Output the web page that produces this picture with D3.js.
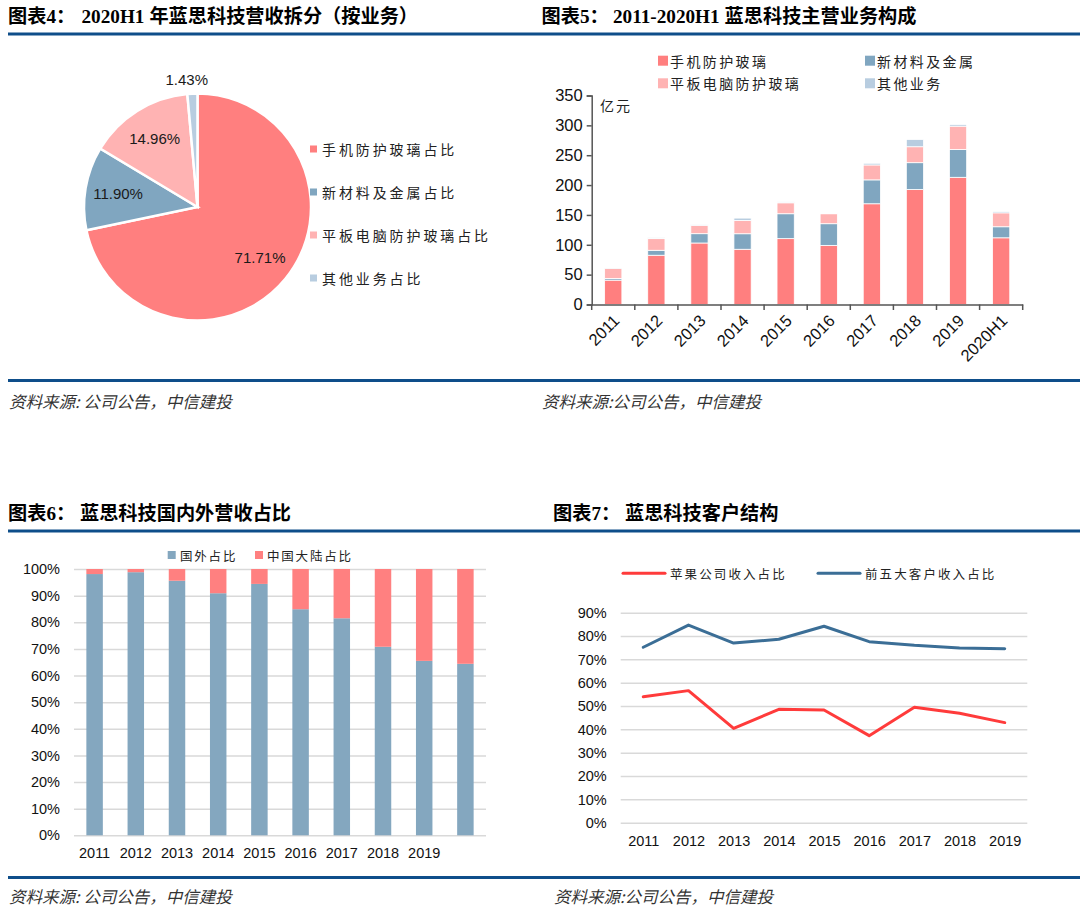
<!DOCTYPE html>
<html><head><meta charset="utf-8">
<script src="https://cdn.jsdelivr.net/npm/d3@7"></script>
<style>
body{margin:0;background:#fff;}
svg{display:block;}
</style></head><body>
<svg id="c" width="1080" height="910"></svg>
<script>
// ---------- DATA ----------
// Chart 4: pie (2020H1 revenue by business)
const pieLabels = ["手机防护玻璃占比", "新材料及金属占比", "平板电脑防护玻璃占比", "其他业务占比"];
const pieValues = [71.71, 11.90, 14.96, 1.43];

// Chart 5: stacked bars (亿元)
const revYears = ["2011", "2012", "2013", "2014", "2015", "2016", "2017", "2018", "2019", "2020H1"];
const revSeriesNames = ["手机防护玻璃", "新材料及金属", "平板电脑防护玻璃", "其他业务"];
const revPhone    = [40.8, 82.5, 103.0, 92.5, 110.3, 99.0, 168.7, 192.5, 213.0, 111.7];
const revMaterial = [2.8, 8.3, 15.6, 26.0, 41.7, 36.3, 40.0, 45.0, 46.7, 18.5];
const revTablet   = [17.0, 19.5, 14.0, 22.3, 18.3, 16.7, 25.0, 26.7, 39.0, 23.3];
const revOther    = [0.5, 1.5, 1.5, 3.9, 1.5, 0.5, 2.8, 12.2, 2.8, 2.2];
const revTicks = [0, 50, 100, 150, 200, 250, 300, 350];

// Chart 6: domestic / overseas share (%)
const shareYears = ["2011", "2012", "2013", "2014", "2015", "2016", "2017", "2018", "2019", "2020H1"];
const shareTickLabels = ["2011", "2012", "2013", "2014", "2015", "2016", "2017", "2018", "2019", ""];
const shareSeriesNames = ["国外占比", "中国大陆占比"];
const shareOverseas = [98.1, 98.8, 95.6, 90.9, 94.4, 84.9, 81.5, 70.8, 65.5, 64.4];
const shareMainland = [1.9, 1.2, 4.4, 9.1, 5.6, 15.1, 18.5, 29.2, 34.5, 35.6];
const shareTicks = [0, 10, 20, 30, 40, 50, 60, 70, 80, 90, 100];

// Chart 7: customer structure (%)
const custYears = ["2011", "2012", "2013", "2014", "2015", "2016", "2017", "2018", "2019"];
const custSeriesNames = ["苹果公司收入占比", "前五大客户收入占比"];
const custApple = [54.0, 56.6, 40.4, 48.6, 48.3, 37.3, 49.5, 46.9, 42.9];
const custTop5  = [75.2, 84.7, 77.0, 78.6, 84.2, 77.6, 76.0, 74.9, 74.6];
const custTicks = [0, 10, 20, 30, 40, 50, 60, 70, 80, 90];

// ---------- STYLE ----------
const C_PHONE = "#FF7F7F", C_MAT = "#80A6C0", C_TAB = "#FFB3B3", C_OTHER = "#B8CDE0";
const C_OVER = "#84A7BF", C_MAIN = "#FF8080";
const C_APPLE = "#FF3B3B", C_TOP5 = "#3B6E96";
const C_RULE = "#0E4E8A";
const CJK = "'Noto Sans CJK SC', 'Noto Sans', sans-serif";
const NUM = "'Liberation Sans', Arial, sans-serif";
const SERIF = "'Liberation Serif', 'Times New Roman', serif";

const svg = d3.select("#c");

// ---------- FRAME: titles, rules, sources ----------
function title(x1, x2, y, lead, serifPart, rest) {
  const t = svg.append("text").attr("y", y).attr("font-weight", "bold").attr("font-size", 19.2).attr("fill", "#000");
  t.append("tspan").attr("x", x1).attr("font-family", CJK).text(lead[0]);
  t.append("tspan").attr("font-family", SERIF).text(lead[1]);
  t.append("tspan").attr("font-family", CJK).text("：");
  if (serifPart) {
    t.append("tspan").attr("x", x2).attr("font-family", SERIF).text(serifPart);
    t.append("tspan").attr("dx", 5).attr("font-family", CJK).text(rest);
  } else {
    t.append("tspan").attr("x", x2).attr("font-family", CJK).text(rest);
  }
}
title(8, 81.5, 23, ["图表", "4"], "2020H1", "年蓝思科技营收拆分（按业务）");
title(541.5, 613, 23, ["图表", "5"], "2011-2020H1", "蓝思科技主营业务构成");
title(8, 80, 520, ["图表", "6"], null, "蓝思科技国内外营收占比");
title(553, 625, 520, ["图表", "7"], null, "蓝思科技客户结构");

[[8, 1080, 34], [8, 1080, 380.5], [8, 1080, 531], [8, 1080, 877.5]].forEach(([a, b, y]) => {
  svg.append("line").attr("x1", a).attr("x2", b).attr("y1", y).attr("y2", y)
    .attr("stroke", C_RULE).attr("stroke-width", 3);
});

function source(x, y, txt) {
  svg.append("text").attr("x", x).attr("y", y).attr("font-family", CJK).attr("font-size", 16.5)
    .attr("font-style", "italic").attr("fill", "#333").text(txt);
}
source(9, 407.5, "资料来源: 公司公告，中信建投");
source(542, 407.5, "资料来源:公司公告，中信建投");
source(9, 902.5, "资料来源: 公司公告，中信建投");
source(554, 902.5, "资料来源:公司公告，中信建投");

// ---------- CHART 4: PIE ----------
{
  const cx = 197.5, cy = 207, r = 113.5;
  const colors = [C_PHONE, C_MAT, C_TAB, C_OTHER];
  const pie = d3.pie().sort(null).value(d => d)(pieValues);
  const arc = d3.arc().innerRadius(0).outerRadius(r);
  const labelArc = d3.arc().innerRadius(r * 0.71).outerRadius(r * 0.71);
  const outArc = d3.arc().innerRadius(r + 14).outerRadius(r + 14);
  const g = svg.append("g").attr("transform", `translate(${cx},${cy})`);
  g.selectAll("path").data(pie).join("path")
    .attr("d", arc).attr("fill", (d, i) => colors[i])
    .attr("stroke", "#fff").attr("stroke-width", 2.5).attr("stroke-linejoin", "miter");
  g.selectAll("text.lbl").data(pie).join("text").attr("class", "lbl")
    .attr("transform", d => {
      const p = (d.value < 5 ? outArc : labelArc).centroid(d);
      return `translate(${p[0] - (d.value < 5 ? 5 : 0)},${p[1]})`;
    })
    .attr("text-anchor", "middle").attr("dominant-baseline", "central")
    .attr("font-family", NUM).attr("font-size", 15).attr("fill", "#1a1a1a")
    .text(d => d.value.toFixed(2) + "%");
  // legend
  const lg = svg.append("g");
  pieLabels.forEach((name, i) => {
    const y = 149 + i * 43;
    lg.append("rect").attr("x", 310).attr("y", y - 3.5).attr("width", 7).attr("height", 7).attr("fill", colors[i]);
    lg.append("text").attr("x", 322).attr("y", y).attr("dominant-baseline", "central")
      .attr("font-family", CJK).attr("font-size", 14).attr("letter-spacing", 2.9).attr("fill", "#222").text(name);
  });
}

// ---------- CHART 5: STACKED BARS ----------
{
  const x = d3.scaleBand().domain(revYears).range([591.7, 1022.7]).paddingInner(0.6).paddingOuter(0.3);
  const y = d3.scaleLinear().domain([0, 350]).range([304.5, 95.5]);
  const colors = [C_PHONE, C_MAT, C_TAB, C_OTHER];
  const rows = revYears.map((yr, i) => ({ yr, s0: revPhone[i], s1: revMaterial[i], s2: revTablet[i], s3: revOther[i] }));
  const stack = d3.stack().keys(["s0", "s1", "s2", "s3"])(rows);
  const g = svg.append("g");
  g.selectAll("g.ser").data(stack).join("g").attr("class", "ser").attr("fill", (d, i) => colors[i])
    .selectAll("rect").data(d => d).join("rect")
    .attr("x", d => x(d.data.yr)).attr("width", x.bandwidth())
    .attr("y", d => y(d[1])).attr("height", d => y(d[0]) - y(d[1]))
    .attr("stroke", "#fff").attr("stroke-width", 0.8);

  // y axis
  const ya = svg.append("g").attr("transform", "translate(591.7,0)")
    .call(d3.axisLeft(y).tickValues(revTicks).tickSize(5).tickPadding(4));
  ya.selectAll("text").attr("font-family", NUM).attr("font-size", 16.5).attr("fill", "#111");
  ya.selectAll("line,path").attr("stroke", "#555").attr("stroke-width", 1.5);
  // x axis with boundary ticks
  const xa = svg.append("g").attr("transform", "translate(0,304.5)")
    .call(d3.axisBottom(x).tickSize(0).tickPadding(0));
  xa.select("path").attr("stroke", "#555").attr("stroke-width", 1.5);
  xa.selectAll(".tick text")
    .attr("font-family", NUM).attr("font-size", 16.5).attr("fill", "#111")
    .attr("text-anchor", "end").attr("dy", null)
    .attr("transform", "translate(3,13) rotate(-45)")
    .attr("dominant-baseline", "central");
  const bounds = revYears.map(d => x(d) - x.step() * x.paddingInner() / 2).concat([x.range()[1]]);
  bounds[0] = x.range()[0];
  svg.append("g").selectAll("line").data(bounds).join("line")
    .attr("x1", d => d).attr("x2", d => d).attr("y1", 304.5).attr("y2", 310)
    .attr("stroke", "#555").attr("stroke-width", 1.5);

  svg.append("text").attr("x", 600).attr("y", 105).attr("dominant-baseline", "central")
    .attr("font-family", CJK).attr("font-size", 14).attr("letter-spacing", 2).attr("fill", "#222").text("亿元");

  // legend
  const pos = [[658, 60.7], [865, 60.7], [658, 83.3], [865, 83.3]];
  revSeriesNames.forEach((n, i) => {
    svg.append("rect").attr("x", pos[i][0]).attr("y", pos[i][1] - 5).attr("width", 10).attr("height", 10).attr("fill", colors[i]);
    svg.append("text").attr("x", pos[i][0] + 12).attr("y", pos[i][1]).attr("dominant-baseline", "central")
      .attr("font-family", CJK).attr("font-size", 14).attr("letter-spacing", 2.4).attr("fill", "#222").text(n);
  });
}

// ---------- CHART 6: 100% STACKED BARS ----------
{
  const x = d3.scaleBand().domain(shareYears).range([74, 486]).paddingInner(0.6).paddingOuter(0.3);
  const y = d3.scaleLinear().domain([0, 100]).range([835.3, 569]);
  const ya = svg.append("g").attr("transform", "translate(74,0)")
    .call(d3.axisLeft(y).tickValues(shareTicks).tickSize(-(486 - 74)).tickPadding(14).tickFormat(d => d + "%"));
  ya.select(".domain").remove();
  ya.selectAll(".tick line").attr("stroke", "#D9D9D9").attr("stroke-width", 1.5);
  ya.selectAll("text").attr("font-family", NUM).attr("font-size", 14.5).attr("fill", "#111");

  const rows = shareYears.map((yr, i) => ({ yr, a: shareOverseas[i], b: shareMainland[i] }));
  const stack = d3.stack().keys(["a", "b"])(rows);
  const colors = [C_OVER, C_MAIN];
  svg.append("g").selectAll("g").data(stack).join("g").attr("fill", (d, i) => colors[i])
    .selectAll("rect").data(d => d).join("rect")
    .attr("x", d => x(d.data.yr)).attr("width", x.bandwidth())
    .attr("y", d => y(d[1])).attr("height", d => y(d[0]) - y(d[1]));

  const xa = svg.append("g").attr("transform", "translate(0,835.3)")
    .call(d3.axisBottom(x).tickSize(0).tickPadding(12.5).tickFormat((d, i) => shareTickLabels[i]));
  xa.select(".domain").remove();
  xa.selectAll("text").attr("font-family", NUM).attr("font-size", 14.5).attr("fill", "#111");

  const lp = [[167.7, 180], [255, 267]];
  shareSeriesNames.forEach((n, i) => {
    svg.append("rect").attr("x", lp[i][0]).attr("y", 551).attr("width", 8).attr("height", 8).attr("fill", colors[i]);
    svg.append("text").attr("x", lp[i][1]).attr("y", 555).attr("dominant-baseline", "central")
      .attr("font-family", CJK).attr("font-size", 12.5).attr("letter-spacing", 1.8).attr("fill", "#222").text(n);
  });
}

// ---------- CHART 7: LINES ----------
{
  const x = d3.scalePoint().domain(custYears).range([620.7, 1027.3]).padding(0.5);
  const y = d3.scaleLinear().domain([0, 90]).range([822.7, 612.7]);
  const ya = svg.append("g").attr("transform", "translate(620.7,0)")
    .call(d3.axisLeft(y).tickValues(custTicks).tickSize(-(1027.3 - 620.7)).tickPadding(14).tickFormat(d => d + "%"));
  ya.select(".domain").remove();
  ya.selectAll(".tick line").attr("stroke", "#D9D9D9").attr("stroke-width", 1.5);
  ya.selectAll("text").attr("font-family", NUM).attr("font-size", 14.5).attr("fill", "#111");

  const xa = svg.append("g").attr("transform", "translate(0,822.7)")
    .call(d3.axisBottom(x).tickSize(0).tickPadding(13.5));
  xa.select(".domain").remove();
  xa.selectAll("text").attr("font-family", NUM).attr("font-size", 14.5).attr("fill", "#111");

  const line = d3.line().x((d, i) => x(custYears[i])).y(d => y(d));
  const series = [custApple, custTop5], colors = [C_APPLE, C_TOP5];
  series.forEach((s, i) => {
    svg.append("path").attr("d", line(s)).attr("fill", "none").attr("stroke", colors[i])
      .attr("stroke-width", 3).attr("stroke-linejoin", "round").attr("stroke-linecap", "round");
  });

  const lp = [[623, 665, 670], [818, 860, 865]];
  custSeriesNames.forEach((n, i) => {
    svg.append("line").attr("x1", lp[i][0]).attr("x2", lp[i][1]).attr("y1", 573.3).attr("y2", 573.3)
      .attr("stroke", colors[i]).attr("stroke-width", 3).attr("stroke-linecap", "round");
    svg.append("text").attr("x", lp[i][2]).attr("y", 573.3).attr("dominant-baseline", "central")
      .attr("font-family", CJK).attr("font-size", 12.5).attr("letter-spacing", 2.1).attr("fill", "#222").text(n);
  });
}
</script>
</body></html>
